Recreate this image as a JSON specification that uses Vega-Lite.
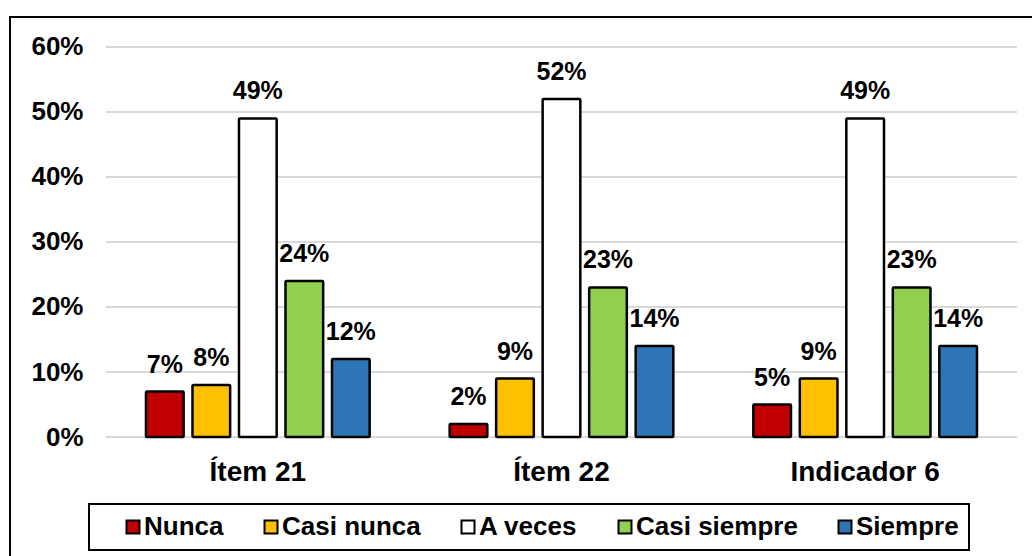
{
  "$schema": "https://vega.github.io/schema/vega-lite/v6.json",
  "width": 1025,
  "height": 542,
  "autosize": {"type": "none"},
  "padding": {"left": 10, "top": 17, "right": -3, "bottom": -3},
  "background": "white",
  "config": {
    "font": "Liberation Sans",
    "view": {"stroke": "black", "strokeWidth": 2},
    "legend": {"strokeWidth": 2}
  },
  "datasets": {
    "bars": [
      {"item": "Ítem 21", "cat": "Nunca", "pct": 0.07},
      {"item": "Ítem 21", "cat": "Casi nunca", "pct": 0.08},
      {"item": "Ítem 21", "cat": "A veces", "pct": 0.49},
      {"item": "Ítem 21", "cat": "Casi siempre", "pct": 0.24},
      {"item": "Ítem 21", "cat": "Siempre", "pct": 0.12},
      {"item": "Ítem 22", "cat": "Nunca", "pct": 0.02},
      {"item": "Ítem 22", "cat": "Casi nunca", "pct": 0.09},
      {"item": "Ítem 22", "cat": "A veces", "pct": 0.52},
      {"item": "Ítem 22", "cat": "Casi siempre", "pct": 0.23},
      {"item": "Ítem 22", "cat": "Siempre", "pct": 0.14},
      {"item": "Indicador 6", "cat": "Nunca", "pct": 0.05},
      {"item": "Indicador 6", "cat": "Casi nunca", "pct": 0.09},
      {"item": "Indicador 6", "cat": "A veces", "pct": 0.49},
      {"item": "Indicador 6", "cat": "Casi siempre", "pct": 0.23},
      {"item": "Indicador 6", "cat": "Siempre", "pct": 0.14}
    ],
    "grid": [
      {"from": "Ítem 21", "to": "Indicador 6", "v": 0},
      {"from": "Ítem 21", "to": "Indicador 6", "v": 0.1},
      {"from": "Ítem 21", "to": "Indicador 6", "v": 0.2},
      {"from": "Ítem 21", "to": "Indicador 6", "v": 0.3},
      {"from": "Ítem 21", "to": "Indicador 6", "v": 0.4},
      {"from": "Ítem 21", "to": "Indicador 6", "v": 0.5},
      {"from": "Ítem 21", "to": "Indicador 6", "v": 0.6}
    ]
  },
  "layer": [
    {
      "data": {"name": "grid"},
      "mark": {"type": "rule", "color": "#D9D9D9", "strokeWidth": 2},
      "encoding": {
        "x": {
          "field": "from", "type": "nominal", "bandPosition": 0,
          "scale": {"domain": ["Ítem 21", "Ítem 22", "Indicador 6"], "paddingInner": 0, "paddingOuter": 0.1877, "align": 0.842},
          "axis": {"orient": "bottom", "offset": -79, "domain": false, "ticks": false, "tickSize": 0, "labelPadding": 0, "labelBaseline": "alphabetic", "labelFontSize": 28, "labelFontWeight": "bold", "labelColor": "black", "labelAngle": 0, "title": null}
        },
        "x2": {"field": "to", "bandPosition": 1},
        "y": {
          "field": "v", "type": "quantitative",
          "scale": {"domain": [-0.18769, 0.64615], "nice": false, "zero": false},
          "axis": {"values": [0, 0.1, 0.2, 0.3, 0.4, 0.5, 0.6], "format": ".0%", "grid": false, "domain": false, "ticks": false, "tickSize": 0, "labelPadding": 0, "offset": -73, "labelFontSize": 26, "labelFontWeight": "bold", "labelColor": "black", "title": null}
        }
      }
    },
    {
      "data": {"name": "bars"},
      "mark": {"type": "bar", "stroke": "black", "strokeWidth": 2.5, "cornerRadius": 1},
      "encoding": {
        "x": {"field": "item", "type": "nominal"},
        "xOffset": {"field": "cat", "type": "nominal", "scale": {"domain": ["Nunca", "Casi nunca", "A veces", "Casi siempre", "Siempre"], "paddingInner": 0.19, "paddingOuter": 0.86}},
        "y": {"field": "pct", "type": "quantitative"},
        "y2": {"datum": 0},
        "fill": {
          "field": "cat", "type": "nominal",
          "scale": {"domain": ["Nunca", "Casi nunca", "A veces", "Casi siempre", "Siempre"], "range": ["#C00000", "#FFC000", "#FFFFFF", "#92D050", "#2E75B6"]},
          "legend": {"orient": "none", "legendX": 79, "legendY": 487, "direction": "horizontal", "columns": 5, "title": null, "labelFontSize": 26, "labelFontWeight": "bold", "labelColor": "black", "labelLimit": 0, "symbolType": "square", "symbolSize": 169, "symbolStrokeColor": "black", "symbolStrokeWidth": 2, "strokeColor": "black", "padding": 10, "columnPadding": 13, "symbolOffset": 21, "labelOffset": -2}
        }
      }
    },
    {
      "data": {"name": "bars"},
      "mark": {"type": "text", "dy": -19, "baseline": "alphabetic", "fontSize": 25, "fontWeight": "bold", "color": "black"},
      "encoding": {
        "x": {"field": "item", "type": "nominal"},
        "xOffset": {"field": "cat", "type": "nominal"},
        "y": {"field": "pct", "type": "quantitative"},
        "text": {"field": "pct", "type": "quantitative", "format": ".0%"}
      }
    }
  ]
}
